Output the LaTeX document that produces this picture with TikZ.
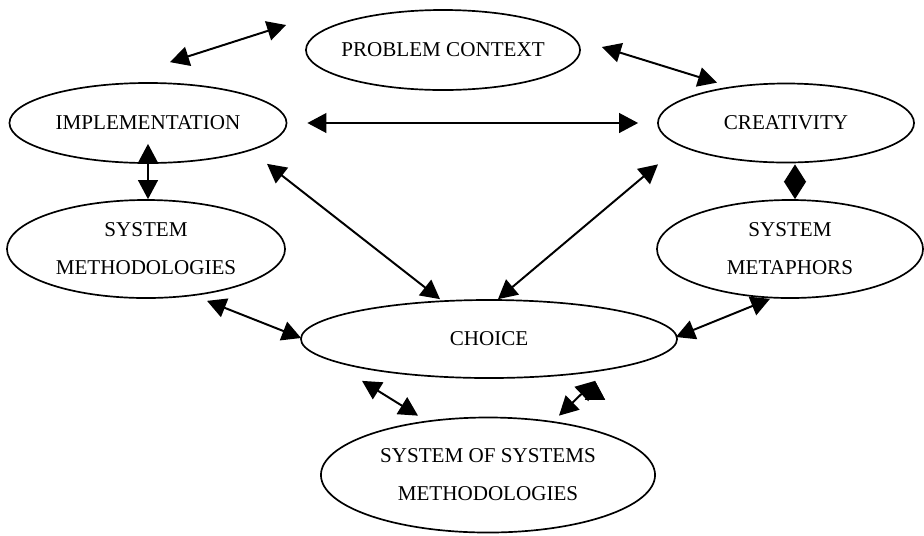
\documentclass[tikz,border=0pt]{standalone}
\usepackage{fontspec}
\setmainfont{Liberation Serif}
\usetikzlibrary{shapes.geometric, arrows.meta}
\tikzset{
<->, % every connector points both ways
>={Triangle[length=13.5pt, width=14pt]}, % big filled heads
link/.style={line width=1.4pt}, % the connectors
pair/.style={>={Triangle[length=12.5pt, width=15.5pt]}}, % two heads meeting, no shaft
idea/.style={ellipse, draw, line width=1.2pt, inner sep=0pt, align=center,
  font=\fontsize{15}{27}\selectfont}, % sets the properties for each ellipse
}

\begin{document}
\begin{tikzpicture}[x=0.025cm, y=-0.025cm]
    \useasboundingbox (0,0) rectangle (924,535);

    \node[idea, minimum width=6.85cm, minimum height=2cm, inner xsep=-4pt] (pc) at (443,50) {PROBLEM CONTEXT};
    \node[idea, minimum width=6.925cm, minimum height=2cm] (impl) at (148,123) {IMPLEMENTATION};
    \node[idea, minimum width=6.4cm, minimum height=1.975cm] (crea) at (786,123) {CREATIVITY};
    \node[idea, minimum width=6.95cm, minimum height=2.45cm] (smeth) at (146,249) {SYSTEM\\METHODOLOGIES};
    \node[idea, minimum width=6.65cm, minimum height=2.45cm] (smeta) at (790,249) {SYSTEM\\METAPHORS};
    \node[idea, minimum width=9.4cm, minimum height=1.95cm] (choice) at (489,339) {CHOICE};
    \node[idea, minimum width=8.35cm, minimum height=2.875cm] (sosm) at (488,475) {SYSTEM OF SYSTEMS\\METHODOLOGIES};

    \draw[link] ([shift={(22,-20)}]impl.north) edge ([shift={(-19,-25)}]pc.west)
            ([shift={(21,-3)}]pc.east) edge ([shift={(-69,0)}]crea.north)
            ([shift={(20,0)}]impl.east) edge ([shift={(-19,0)}]crea.west)
            ([shift={(0,-20)}]impl.south) edge ([shift={(2,0)}]smeth.north)
            ([shift={(9,1)}]crea.south) edge[pair] ([shift={(5,0)}]smeta.north)
            ([shift={(119,0)}]impl.south) edge ([shift={(-49,0)}]choice.north)
            ([shift={(-128,1)}]crea.south) edge ([shift={(9,0)}]choice.north)
            ([shift={(61,2)}]smeth.south) edge ([shift={(1,-1)}]choice.west)
            ([shift={(-20,0)}]smeta.south) edge ([shift={(-2,-2)}]choice.east)
            ([shift={(-127,2)}]choice.south) edge ([shift={(-70,-1)}]sosm.north)
            ([shift={(106,2)}]choice.south) edge ([shift={(71,-1)}]sosm.north);

\end{tikzpicture}
\end{document}
